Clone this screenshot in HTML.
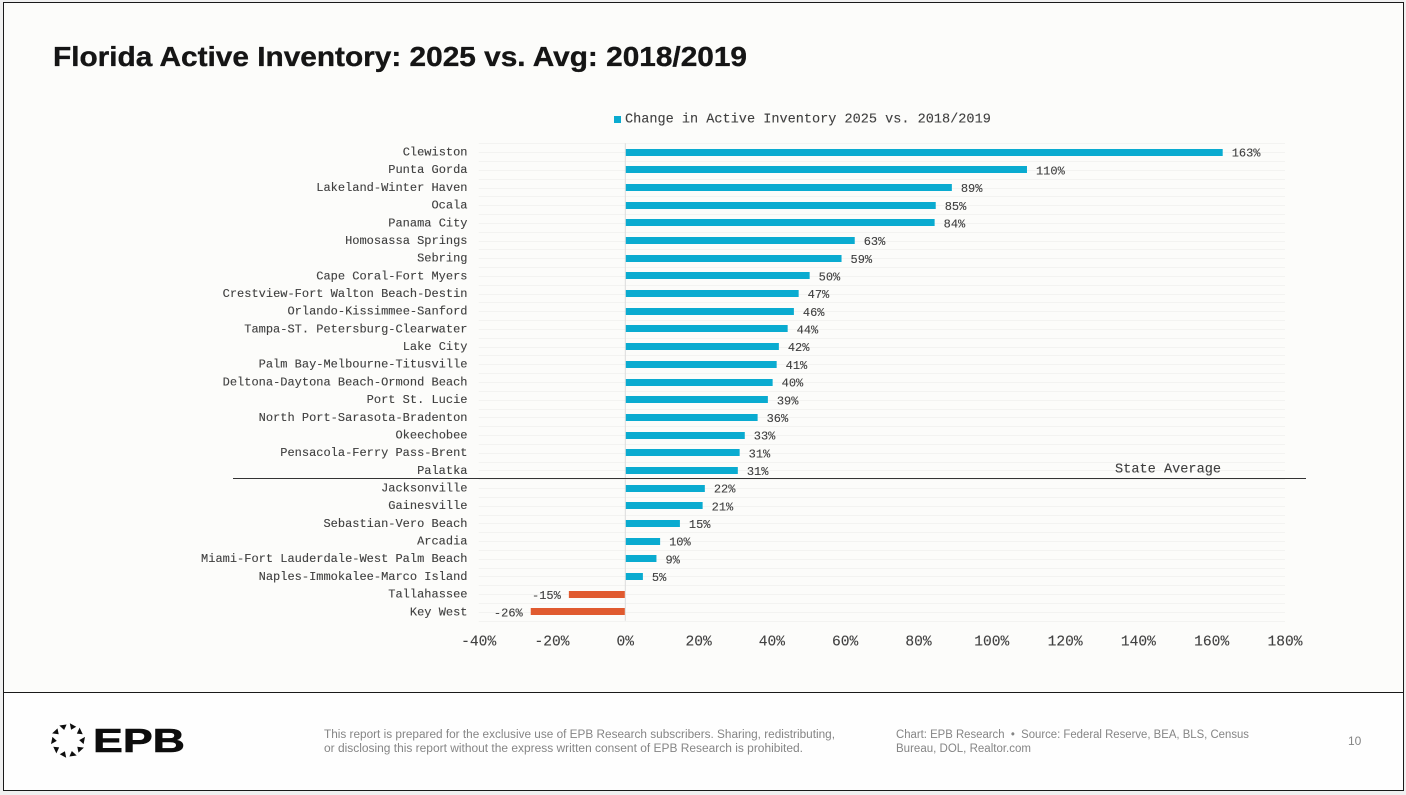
<!DOCTYPE html>
<html lang="en">
<head>
<meta charset="utf-8">
<title>Florida Active Inventory: 2025 vs. Avg: 2018/2019</title>
<style>
  html, body { margin: 0; padding: 0; background: #f0f0f0; }
  body { width: 1406px; height: 795px; overflow: hidden; }
  svg { display: block; }
  .mono { font-family: "Liberation Mono", monospace; fill: #404040; stroke: #404040; stroke-width: 0.12; }
  .sans { font-family: "Liberation Sans", sans-serif; }
</style>
</head>
<body>
<svg id="slide" width="1406" height="795" viewBox="0 0 1406 795" xmlns="http://www.w3.org/2000/svg">
  <rect x="3.5" y="2.5" width="1400" height="788" fill="#fcfcfa" stroke="#1a1a1a" stroke-width="1"/>
  <rect x="4" y="693" width="1399" height="97" fill="#fefefe"/>
  <line x1="4" x2="1403" y1="692.5" y2="692.5" stroke="#1a1a1a" stroke-width="1"/>
  <text class="sans" x="53" y="66" font-size="28" font-weight="700" fill="#151515" stroke="#151515" stroke-width="0.35" textLength="694" lengthAdjust="spacingAndGlyphs">Florida Active Inventory: 2025 vs. Avg: 2018/2019</text>

  <g>
    <rect x="614" y="116" width="7" height="7" fill="#0aabd0"/>
    <text class="mono" x="625" y="122.5" font-size="13.55">Change in Active Inventory 2025 vs. 2018/2019</text>
  </g>

  <g id="grid"></g>
  <g id="bars"></g>
  <g id="cats"></g>
  <g id="vals"></g>
  <g id="ticks"></g>

  <line x1="233" x2="1306" y1="478.5" y2="478.5" stroke="#333" stroke-width="1"/>
  <text class="mono" x="1115" y="472.5" font-size="13.6">State Average</text>

  <g id="logo">
    <text class="sans" x="93" y="752" font-size="33.5" font-weight="700" fill="#0d0d0d" stroke="#0d0d0d" stroke-width="0.6" textLength="92" lengthAdjust="spacingAndGlyphs">EPB</text>
  </g>

  <g class="sans" font-size="11.5" fill="#858585">
    <text x="324" y="738" textLength="511" lengthAdjust="spacingAndGlyphs">This report is prepared for the exclusive use of EPB Research subscribers. Sharing, redistributing,</text>
    <text x="324" y="752" textLength="479" lengthAdjust="spacingAndGlyphs">or disclosing this report without the express written consent of EPB Research is prohibited.</text>
  </g>
  <g class="sans" font-size="11.5" fill="#858585">
    <text x="896" y="738" textLength="353" lengthAdjust="spacingAndGlyphs">Chart: EPB Research &#160;•&#160; Source: Federal Reserve, BEA, BLS, Census</text>
    <text x="896" y="752" textLength="135" lengthAdjust="spacingAndGlyphs">Bureau, DOL, Realtor.com</text>
  </g>
  <text class="sans" x="1348" y="745" font-size="12" fill="#858585">10</text>
</svg>

<script>
const categories = [
  "Clewiston", "Punta Gorda", "Lakeland-Winter Haven", "Ocala", "Panama City",
  "Homosassa Springs", "Sebring", "Cape Coral-Fort Myers",
  "Crestview-Fort Walton Beach-Destin", "Orlando-Kissimmee-Sanford",
  "Tampa-ST. Petersburg-Clearwater", "Lake City", "Palm Bay-Melbourne-Titusville",
  "Deltona-Daytona Beach-Ormond Beach", "Port St. Lucie", "North Port-Sarasota-Bradenton",
  "Okeechobee", "Pensacola-Ferry Pass-Brent", "Palatka", "Jacksonville", "Gainesville",
  "Sebastian-Vero Beach", "Arcadia", "Miami-Fort Lauderdale-West Palm Beach",
  "Naples-Immokalee-Marco Island", "Tallahassee", "Key West"
];
const changeValues = [
  163.0, 109.6, 89.1, 84.7, 84.4, 62.6, 59.0, 50.3, 47.3, 46.0, 44.3, 41.9, 41.3, 40.2,
  38.9, 36.1, 32.6, 31.2, 30.7, 21.7, 21.1, 14.9, 9.5, 8.5, 4.8, -15.4, -25.8
];
const xTicks = [-40, -20, 0, 20, 40, 60, 80, 100, 120, 140, 160, 180];
const logoPetals = [0, 1, 2, 3, 4, 5, 6, 7, 8, 9];

const NS = "http://www.w3.org/2000/svg";
const plotLeft = 478.7, plotRight = 1285, plotTop = 143.3, plotBottom = 620.7;
const xMin = -40, xMax = 180;
const barHeight = 7;
const bandHeight = (plotBottom - plotTop) / categories.length;

function xScale(v) { return plotLeft + (v - xMin) / (xMax - xMin) * (plotRight - plotLeft); }
function yBand(i) { return plotTop + bandHeight * (i + 0.5); }
function make(tag, attrs, parent) {
  const el = document.createElementNS(NS, tag);
  for (const k in attrs) el.setAttribute(k, attrs[k]);
  parent.appendChild(el);
  return el;
}

const gridG = document.getElementById("grid");
const barsG = document.getElementById("bars");
const catsG = document.getElementById("cats");
const valsG = document.getElementById("vals");
const ticksG = document.getElementById("ticks");
const logoG = document.getElementById("logo");

for (let i = 0; i <= categories.length * 2; i++) {
  const y = Math.round(plotTop + i * bandHeight / 2) + 0.5;
  const line = make("line", { x1: plotLeft, x2: plotRight, y1: y, y2: y, stroke: "#f3f3f1", "stroke-width": 1 }, gridG);
  
  
}
const zeroLine = make("line", { x1: xScale(0), x2: xScale(0), y1: plotTop, y2: plotBottom, stroke: "#dcdcdc", "stroke-width": 1 }, gridG);



categories.forEach(function (name, i) {
  const v = changeValues[i];
  const cy = yBand(i);
  const x0 = xScale(0), x1 = xScale(v);
  const bar = make("rect", {
    x: v >= 0 ? x0 + 0.5 : x1,
    y: Math.round(cy - barHeight / 2),
    width: v >= 0 ? x1 - x0 - 0.5 : x0 - x1 - 0.5,
    height: barHeight,
    fill: v >= 0 ? "#0aabd0" : "#e05a2f"
  }, barsG);
  
  

  const cat = make("text", { class: "mono", x: 467.5, y: cy + 3.4, "font-size": 12, "text-anchor": "end" }, catsG);
  cat.textContent = name;
  
  

  const val = make("text", {
    class: "mono",
    x: v >= 0 ? x1 + 9 : x1 - 8,
    y: cy + 4.6,
    "font-size": 12,
    "text-anchor": v >= 0 ? "start" : "end"
  }, valsG);
  val.textContent = Math.round(v) + "%";
  
  
});

xTicks.forEach(function (t) {
  const tick = make("text", { class: "mono", x: xScale(t), y: 645.5, "font-size": 14.6, "text-anchor": "middle" }, ticksG);
  tick.textContent = t + "%";
  
  
});

logoPetals.forEach(function (p) {
  const tri = make("polygon", {
    points: "-3.6,-17 3.6,-15.6 -0.4,-11.2",
    fill: "#0d0d0d",
    transform: "translate(68 740.5) rotate(" + (p * 36 + 18) + ")"
  }, logoG);
  
  
});
</script>
</body>
</html>
